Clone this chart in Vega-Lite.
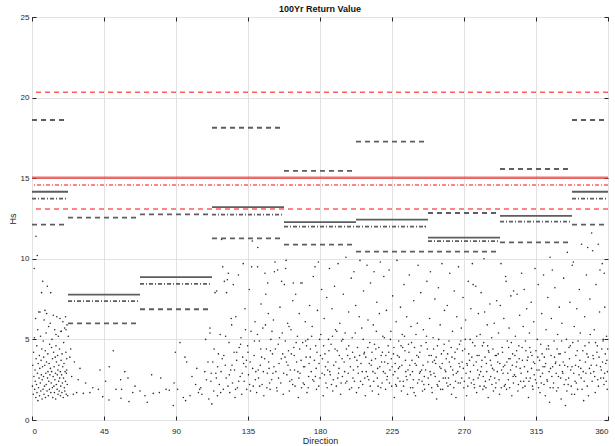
{
"$schema":"https://vega.github.io/schema/vega-lite/v6.json",
"width":576,"height":403,"autosize":"none",
"padding":{"left":32,"top":17,"right":7,"bottom":26},
"background":"white",
"config":{"font":"Liberation Sans","view":{"stroke":"#262626","strokeWidth":1},
"axis":{"domain":false,"tickSize":-4,"tickColor":"#262626","labelColor":"#262626","labelFontSize":8,"titleFontSize":9,"titleFontWeight":"normal","titleColor":"#262626","gridColor":"#e2e2e2"}},
"title":{"text":"100Yr Return Value","fontSize":9,"fontWeight":"bold","color":"#111","offset":-1},
"datasets":{
"seg":[
{"x1":0,"x2":22.5,"v":14.16,"k":"est"},{"x1":0,"x2":22.5,"v":13.73,"k":"dd"},{"x1":0,"x2":22.5,"v":18.61,"k":"up"},{"x1":0,"x2":22.5,"v":12.12,"k":"lo"},
{"x1":22.5,"x2":67.5,"v":7.78,"k":"est"},{"x1":22.5,"x2":67.5,"v":7.38,"k":"dd"},{"x1":22.5,"x2":67.5,"v":12.55,"k":"up"},{"x1":22.5,"x2":67.5,"v":6.0,"k":"lo"},
{"x1":67.5,"x2":112.5,"v":8.86,"k":"est"},{"x1":67.5,"x2":112.5,"v":8.45,"k":"dd"},{"x1":67.5,"x2":112.5,"v":12.76,"k":"up"},{"x1":67.5,"x2":112.5,"v":6.87,"k":"lo"},
{"x1":112.5,"x2":157.5,"v":13.21,"k":"est"},{"x1":112.5,"x2":157.5,"v":12.74,"k":"dd"},{"x1":112.5,"x2":157.5,"v":18.13,"k":"up"},{"x1":112.5,"x2":157.5,"v":11.27,"k":"lo"},
{"x1":157.5,"x2":202.5,"v":12.28,"k":"est"},{"x1":157.5,"x2":202.5,"v":11.99,"k":"dd"},{"x1":157.5,"x2":202.5,"v":15.45,"k":"up"},{"x1":157.5,"x2":202.5,"v":10.88,"k":"lo"},
{"x1":202.5,"x2":247.5,"v":12.43,"k":"est"},{"x1":202.5,"x2":247.5,"v":11.99,"k":"dd"},{"x1":202.5,"x2":247.5,"v":17.27,"k":"up"},{"x1":202.5,"x2":247.5,"v":10.44,"k":"lo"},
{"x1":247.5,"x2":292.5,"v":11.31,"k":"est"},{"x1":247.5,"x2":292.5,"v":11.1,"k":"dd"},{"x1":247.5,"x2":292.5,"v":12.84,"k":"up"},{"x1":247.5,"x2":292.5,"v":10.44,"k":"lo"},
{"x1":292.5,"x2":337.5,"v":12.66,"k":"est"},{"x1":292.5,"x2":337.5,"v":12.3,"k":"dd"},{"x1":292.5,"x2":337.5,"v":15.57,"k":"up"},{"x1":292.5,"x2":337.5,"v":11.02,"k":"lo"},
{"x1":337.5,"x2":360,"v":14.16,"k":"est"},{"x1":337.5,"x2":360,"v":13.73,"k":"dd"},{"x1":337.5,"x2":360,"v":18.61,"k":"up"},{"x1":337.5,"x2":360,"v":12.12,"k":"lo"}
],
"ref":[{"v":20.33,"k":"up"},{"v":15.03,"k":"est"},{"v":14.58,"k":"dd"},{"v":13.09,"k":"lo"}],
"pts":[
{"d":0.3,"h":2.1},{"d":0.5,"h":3.4},{"d":0.8,"h":1.6},{"d":1.0,"h":4.2},{"d":1.2,"h":2.7},{"d":1.4,"h":9.4},{"d":1.5,"h":5.1},{"d":1.7,"h":1.9},{"d":1.9,"h":3.1},{"d":2.0,"h":2.4},
{"d":2.2,"h":6.3},{"d":2.4,"h":1.4},{"d":2.5,"h":11.4},{"d":2.6,"h":3.8},{"d":2.8,"h":2.2},{"d":3.0,"h":4.6},{"d":3.1,"h":1.7},{"d":3.3,"h":10.2},{"d":3.4,"h":2.9},{"d":3.6,"h":5.6},
{"d":3.7,"h":1.2},{"d":3.9,"h":3.5},{"d":4.1,"h":2.0},{"d":4.2,"h":6.7},{"d":4.4,"h":2.6},{"d":4.6,"h":4.0},{"d":4.7,"h":1.5},{"d":4.9,"h":3.2},{"d":5.0,"h":6.7},{"d":5.2,"h":2.3},
{"d":5.3,"h":5.2},{"d":5.5,"h":1.8},{"d":5.7,"h":3.7},{"d":5.8,"h":2.8},{"d":6.0,"h":7.9},{"d":6.1,"h":4.4},{"d":6.3,"h":1.3},{"d":6.4,"h":2.5},{"d":6.6,"h":3.3},{"d":6.7,"h":8.6},
{"d":6.9,"h":1.9},{"d":7.0,"h":4.9},{"d":7.2,"h":2.7},{"d":7.3,"h":3.9},{"d":7.5,"h":1.6},{"d":7.6,"h":6.2},{"d":7.8,"h":2.1},{"d":8.0,"h":3.4},{"d":8.1,"h":6.8},{"d":8.3,"h":4.3},
{"d":8.4,"h":1.4},{"d":8.6,"h":2.9},{"d":8.8,"h":5.4},{"d":8.9,"h":2.2},{"d":9.1,"h":3.6},{"d":9.2,"h":6.6},{"d":9.4,"h":1.8},{"d":9.6,"h":8.3},{"d":9.7,"h":2.6},{"d":9.9,"h":4.1},
{"d":10.0,"h":3.0},{"d":10.2,"h":1.5},{"d":10.4,"h":5.8},{"d":10.5,"h":2.4},{"d":10.7,"h":3.5},{"d":10.9,"h":1.9},{"d":11.0,"h":4.7},{"d":11.2,"h":2.8},{"d":11.4,"h":6.0},{"d":11.5,"h":3.2},
{"d":11.7,"h":7.9},{"d":11.8,"h":1.7},{"d":12.0,"h":2.3},{"d":12.2,"h":4.5},{"d":12.3,"h":3.0},{"d":12.5,"h":5.0},{"d":12.7,"h":2.0},{"d":12.8,"h":3.8},{"d":13.0,"h":1.4},{"d":13.2,"h":2.7},
{"d":13.3,"h":6.5},{"d":13.5,"h":4.2},{"d":13.7,"h":2.1},{"d":13.8,"h":3.3},{"d":14.0,"h":1.7},{"d":14.2,"h":5.6},{"d":14.3,"h":2.5},{"d":14.5,"h":3.9},{"d":14.7,"h":2.9},{"d":14.8,"h":1.3},
{"d":15.0,"h":4.6},{"d":15.2,"h":2.2},{"d":15.3,"h":3.6},{"d":15.5,"h":6.4},{"d":15.7,"h":1.9},{"d":15.8,"h":2.8},{"d":16.0,"h":4.0},{"d":16.2,"h":3.1},{"d":16.3,"h":1.6},{"d":16.5,"h":5.2},
{"d":16.7,"h":2.4},{"d":16.8,"h":3.4},{"d":17.0,"h":1.8},{"d":17.2,"h":4.4},{"d":17.3,"h":2.6},{"d":17.5,"h":6.3},{"d":17.7,"h":3.0},{"d":17.8,"h":1.5},{"d":18.0,"h":2.1},{"d":18.2,"h":3.7},
{"d":18.3,"h":5.5},{"d":18.5,"h":2.8},{"d":18.7,"h":1.7},{"d":18.8,"h":4.1},{"d":19.0,"h":2.3},{"d":19.2,"h":3.3},{"d":19.3,"h":6.1},{"d":19.5,"h":1.4},{"d":19.7,"h":2.6},{"d":19.8,"h":4.8},
{"d":20.0,"h":3.5},{"d":20.2,"h":2.0},{"d":20.4,"h":5.7},{"d":20.5,"h":1.8},{"d":20.7,"h":3.0},{"d":20.9,"h":2.4},{"d":21.0,"h":6.4},{"d":21.2,"h":4.2},{"d":21.4,"h":1.6},{"d":21.5,"h":2.9},
{"d":21.7,"h":3.8},{"d":21.9,"h":5.9},{"d":22.0,"h":2.2},{"d":22.3,"h":1.5},{"d":18.1,"h":5.5},{"d":15.0,"h":5.3},{"d":21.25,"h":5.6},{"d":21.7,"h":3.1},
{"d":22.7,"h":5.2},{"d":23.7,"h":3.9},{"d":24.2,"h":4.4},{"d":24.8,"h":2.7},{"d":25.8,"h":1.6},{"d":27.9,"h":1.7},{"d":28.9,"h":2.5},{"d":30.0,"h":3.2},{"d":32.1,"h":1.65},{"d":36.2,"h":1.7},
{"d":41.5,"h":1.9},{"d":42.5,"h":3.1},{"d":44.2,"h":1.45},{"d":48.1,"h":1.24},{"d":48.3,"h":3.3},{"d":50.8,"h":4.3},{"d":52.5,"h":1.9},{"d":55.4,"h":2.5},{"d":55.6,"h":1.35},{"d":56.0,"h":1.9},
{"d":60.0,"h":2.6},{"d":60.6,"h":1.14},{"d":64.4,"h":2.1},{"d":67.5,"h":1.8},{"d":70.6,"h":1.5},{"d":72.0,"h":1.1},{"d":74.8,"h":2.8},{"d":75.8,"h":1.65},{"d":79.6,"h":1.7},{"d":83.8,"h":1.9},
{"d":85.8,"h":1.85},{"d":88.3,"h":0.9},{"d":88.8,"h":2.3},{"d":89.6,"h":4.2},{"d":92.5,"h":4.8},{"d":94.6,"h":1.4},{"d":95.6,"h":3.9},{"d":96.0,"h":1.2},{"d":96.7,"h":3.6},{"d":98.8,"h":1.5},
{"d":102.3,"h":2.2},{"d":104.0,"h":1.7},{"d":104.8,"h":1.9},{"d":105.5,"h":2.0},{"d":106.2,"h":1.6},{"d":108.0,"h":3.0},{"d":108.5,"h":5.0},{"d":109.0,"h":2.5},{"d":110.0,"h":3.6},{"d":111.25,"h":5.4},
{"d":26.5,"h":3.6},{"d":33.5,"h":2.3},{"d":38.0,"h":2.0},{"d":46.0,"h":2.4},{"d":58.0,"h":3.0},{"d":63.0,"h":1.7},{"d":80.5,"h":2.6},{"d":91.0,"h":1.9},{"d":100.0,"h":2.7},{"d":103.0,"h":3.2},
{"d":110.5,"h":1.3},{"d":111.2,"h":5.7},{"d":111.8,"h":2.4},{"d":112.4,"h":1.0},{"d":113.0,"h":3.6},{"d":113.6,"h":1.8},{"d":114.4,"h":7.9},{"d":114.9,"h":2.9},{"d":115.4,"h":8.0},{"d":115.9,"h":1.5},
{"d":116.5,"h":4.1},{"d":117.1,"h":2.2},{"d":117.6,"h":5.3},{"d":118.2,"h":3.0},{"d":118.5,"h":11.2},{"d":119.2,"h":9.5},{"d":119.6,"h":1.9},
{"d":120.2,"h":8.6},{"d":120.8,"h":3.4},{"d":121.3,"h":2.6},{"d":121.6,"h":7.9},{"d":122.1,"h":8.7},{"d":122.7,"h":9.1},{"d":123.1,"h":4.8},{"d":123.6,"h":1.7},{"d":124.2,"h":3.1},{"d":124.8,"h":5.9},
{"d":125.3,"h":2.3},{"d":125.8,"h":8.4},{"d":126.3,"h":4.2},{"d":126.9,"h":1.4},{"d":127.4,"h":6.4},{"d":127.9,"h":3.7},{"d":128.4,"h":2.0},{"d":129.0,"h":9.0},{"d":129.5,"h":4.5},
{"d":130.1,"h":2.7},{"d":130.6,"h":5.1},{"d":131.1,"h":1.6},{"d":131.7,"h":3.9},{"d":132.0,"h":9.7},{"d":132.6,"h":2.4},{"d":133.1,"h":6.9},{"d":133.7,"h":3.3},{"d":134.2,"h":1.9},{"d":134.8,"h":4.6},
{"d":135.3,"h":2.8},{"d":135.8,"h":8.1},{"d":136.4,"h":3.6},{"d":136.9,"h":5.5},{"d":137.3,"h":9.5},{"d":137.7,"h":11.1},{"d":138.3,"h":2.1},{"d":138.8,"h":4.0},{"d":139.4,"h":6.1},{"d":139.9,"h":3.0},
{"d":140.4,"h":1.7},{"d":141.0,"h":9.5},{"d":141.1,"h":10.7},{"d":141.6,"h":2.6},{"d":142.1,"h":4.9},{"d":142.7,"h":3.4},{"d":143.2,"h":7.2},{"d":143.8,"h":2.2},{"d":144.3,"h":5.7},{"d":144.9,"h":1.5},
{"d":145.4,"h":3.8},{"d":145.6,"h":9.1},{"d":146.1,"h":7.8},{"d":146.5,"h":4.4},{"d":147.1,"h":2.9},{"d":147.3,"h":8.5},{"d":147.7,"h":6.6},{"d":148.2,"h":3.2},{"d":148.8,"h":1.9},{"d":149.3,"h":5.0},{"d":149.8,"h":2.5},
{"d":150.3,"h":4.1},{"d":150.9,"h":6.2},{"d":151.5,"h":9.2},{"d":151.9,"h":9.8},{"d":152.4,"h":3.0},{"d":152.9,"h":2.0},{"d":153.5,"h":9.3},{"d":153.9,"h":4.7},{"d":154.4,"h":3.5},{"d":155.0,"h":7.0},
{"d":155.5,"h":2.3},{"d":156.0,"h":8.6},{"d":156.4,"h":5.4},{"d":157.0,"h":1.6},{"d":157.7,"h":8.4},{"d":158.1,"h":3.9},{"d":158.5,"h":9.4},{"d":158.8,"h":9.9},{"d":159.3,"h":2.8},{"d":159.8,"h":6.0},
{"d":160.3,"h":4.3},{"d":160.8,"h":1.8},{"d":161.4,"h":3.1},{"d":161.9,"h":5.6},{"d":162.4,"h":2.5},{"d":163.0,"h":7.4},{"d":163.3,"h":8.5},{"d":163.9,"h":4.0},{"d":164.4,"h":2.1},{"d":164.8,"h":7.8},
{"d":165.4,"h":3.6},{"d":165.9,"h":5.2},{"d":166.5,"h":1.4},{"d":167.0,"h":6.6},{"d":167.5,"h":2.9},{"d":168.0,"h":8.5},{"d":168.8,"h":8.5},{"d":169.2,"h":4.8},{"d":169.7,"h":3.3},
{"d":170.2,"h":2.2},{"d":170.8,"h":6.1},{"d":171.3,"h":3.9},{"d":171.9,"h":1.7},{"d":172.4,"h":5.0},{"d":172.9,"h":2.7},{"d":173.5,"h":7.1},{"d":174.0,"h":4.4},{"d":174.5,"h":3.0},{"d":175.1,"h":5.8},
{"d":175.8,"h":8.9},{"d":176.2,"h":2.4},{"d":176.9,"h":9.5},{"d":177.3,"h":4.6},{"d":177.8,"h":1.9},{"d":178.4,"h":6.8},{"d":179.0,"h":9.8},{"d":179.4,"h":3.5},
{"d":180.0,"h":2.6},{"d":180.5,"h":5.3},{"d":181.0,"h":8.1},{"d":181.5,"h":3.8},{"d":182.0,"h":1.5},{"d":182.6,"h":6.3},{"d":183.1,"h":4.1},{"d":183.7,"h":2.3},{"d":184.2,"h":7.6},{"d":184.8,"h":3.1},
{"d":185.3,"h":5.0},{"d":185.9,"h":9.4},{"d":186.4,"h":2.8},{"d":186.9,"h":4.7},{"d":187.5,"h":6.9},{"d":188.0,"h":1.8},{"d":188.6,"h":3.4},{"d":189.1,"h":8.3},{"d":189.7,"h":5.6},
{"d":190.2,"h":2.1},{"d":190.8,"h":4.3},{"d":191.3,"h":9.7},{"d":191.9,"h":3.2},{"d":192.4,"h":6.0},{"d":192.9,"h":1.6},{"d":193.5,"h":4.9},{"d":194.0,"h":2.7},{"d":194.6,"h":7.8},{"d":195.1,"h":3.6},
{"d":195.7,"h":5.4},{"d":196.2,"h":10.1},{"d":196.8,"h":2.4},{"d":197.3,"h":4.0},{"d":197.9,"h":6.7},{"d":198.4,"h":1.9},{"d":199.0,"h":3.3},{"d":199.5,"h":8.8},
{"d":200.1,"h":5.1},{"d":200.6,"h":2.6},{"d":201.2,"h":9.2},{"d":201.7,"h":3.9},{"d":202.3,"h":7.1},{"d":202.8,"h":1.7},{"d":203.4,"h":4.5},{"d":203.9,"h":2.9},{"d":204.5,"h":6.4},{"d":205.0,"h":9.9},
{"d":205.6,"h":3.5},{"d":206.1,"h":5.7},{"d":206.7,"h":2.2},{"d":207.2,"h":8.0},{"d":207.8,"h":4.2},{"d":208.3,"h":1.5},{"d":208.9,"h":3.0},{"d":209.4,"h":9.6},
{"d":210.0,"h":6.2},{"d":210.5,"h":2.5},{"d":211.1,"h":4.8},{"d":211.6,"h":8.5},{"d":212.2,"h":3.7},{"d":212.7,"h":1.8},{"d":213.3,"h":5.9},{"d":213.8,"h":9.2},{"d":214.4,"h":2.9},{"d":214.9,"h":4.4},
{"d":215.5,"h":7.3},{"d":216.0,"h":3.2},{"d":216.6,"h":1.6},{"d":217.1,"h":6.6},{"d":217.7,"h":9.8},{"d":218.2,"h":4.0},{"d":218.8,"h":2.3},{"d":219.3,"h":5.2},
{"d":219.9,"h":8.9},{"d":220.4,"h":3.6},{"d":221.0,"h":1.9},{"d":221.5,"h":6.8},{"d":222.1,"h":2.7},{"d":222.6,"h":4.6},{"d":223.2,"h":9.3},{"d":223.7,"h":3.1},{"d":224.3,"h":5.5},{"d":224.8,"h":2.1},
{"d":225.4,"h":7.7},{"d":225.9,"h":4.1},{"d":226.5,"h":1.4},{"d":227.0,"h":3.5},{"d":227.6,"h":6.1},{"d":228.1,"h":9.9},{"d":228.7,"h":2.6},{"d":229.2,"h":4.9},
{"d":229.8,"h":3.3},{"d":230.3,"h":7.0},{"d":230.9,"h":1.8},{"d":231.4,"h":5.3},{"d":232.0,"h":2.4},{"d":232.5,"h":8.4},{"d":233.1,"h":4.3},{"d":233.6,"h":3.0},{"d":234.2,"h":6.4},{"d":234.7,"h":1.6},
{"d":235.3,"h":4.7},{"d":235.8,"h":9.0},{"d":236.4,"h":2.8},{"d":236.9,"h":5.8},{"d":237.5,"h":3.7},{"d":238.0,"h":2.0},{"d":238.6,"h":7.4},{"d":239.1,"h":4.5},
{"d":239.7,"h":1.5},{"d":240.2,"h":3.4},{"d":240.8,"h":6.0},{"d":241.3,"h":9.6},{"d":241.9,"h":2.5},{"d":242.4,"h":4.2},{"d":243.0,"h":7.9},{"d":243.5,"h":3.1},{"d":244.1,"h":1.8},{"d":244.6,"h":5.6},
{"d":245.2,"h":2.7},{"d":245.7,"h":12.0},{"d":246.3,"h":4.8},{"d":246.8,"h":8.6},{"d":247.4,"h":3.6},{"d":247.9,"h":2.2},{"d":248.5,"h":6.3},{"d":249.0,"h":9.2},
{"d":249.6,"h":4.0},{"d":250.1,"h":1.7},{"d":250.7,"h":5.1},{"d":251.2,"h":2.9},{"d":251.8,"h":7.5},{"d":252.3,"h":3.5},{"d":252.9,"h":1.3},{"d":253.4,"h":4.6},{"d":254.0,"h":8.2},{"d":254.5,"h":2.4},
{"d":255.1,"h":5.9},{"d":255.6,"h":3.2},{"d":256.2,"h":9.7},{"d":256.7,"h":1.9},{"d":257.3,"h":4.3},{"d":257.8,"h":6.8},{"d":258.4,"h":2.6},{"d":258.9,"h":3.8},
{"d":259.5,"h":7.1},{"d":260.0,"h":2.1},{"d":260.6,"h":4.9},{"d":261.1,"h":9.1},{"d":261.7,"h":3.3},{"d":262.2,"h":1.6},{"d":262.8,"h":5.5},{"d":263.3,"h":2.8},{"d":263.9,"h":8.0},{"d":264.4,"h":4.2},
{"d":265.0,"h":1.4},{"d":265.5,"h":6.4},{"d":266.1,"h":3.0},{"d":266.6,"h":9.5},{"d":267.2,"h":4.7},{"d":267.7,"h":2.3},{"d":268.3,"h":5.7},{"d":268.8,"h":3.6},{"d":269.4,"h":7.6},
{"d":269.9,"h":2.0},{"d":270.5,"h":4.4},{"d":271.0,"h":6.2},{"d":271.6,"h":1.5},{"d":272.1,"h":3.4},{"d":272.7,"h":8.6},{"d":273.2,"h":2.6},{"d":273.8,"h":5.0},{"d":274.3,"h":6.9},{"d":274.9,"h":3.9},
{"d":275.2,"h":9.7},{"d":275.7,"h":8.4},{"d":276.3,"h":2.2},{"d":276.8,"h":4.6},{"d":277.4,"h":8.3},{"d":277.9,"h":1.7},{"d":278.5,"h":3.1},{"d":279.0,"h":6.6},{"d":279.6,"h":2.8},
{"d":280.1,"h":5.3},{"d":280.7,"h":7.9},{"d":281.2,"h":3.7},{"d":281.8,"h":1.9},{"d":282.3,"h":4.8},{"d":282.5,"h":10.0},{"d":282.9,"h":6.7},{"d":283.4,"h":2.4},{"d":284.0,"h":3.5},{"d":284.5,"h":5.9},
{"d":285.1,"h":1.4},{"d":285.6,"h":4.2},{"d":286.2,"h":7.2},{"d":286.7,"h":2.7},{"d":287.3,"h":5.1},{"d":287.8,"h":3.2},{"d":288.4,"h":1.8},{"d":288.9,"h":6.0},{"d":289.5,"h":4.0},
{"d":290.0,"h":2.3},{"d":290.4,"h":7.4},{"d":291.1,"h":3.6},{"d":291.6,"h":5.4},{"d":292.2,"h":1.6},{"d":292.7,"h":7.1},{"d":293.1,"h":9.7},{"d":293.8,"h":4.5},{"d":294.4,"h":2.9},{"d":294.9,"h":6.3},
{"d":295.5,"h":3.4},{"d":296.0,"h":8.9},{"d":296.3,"h":8.6},{"d":296.6,"h":1.9},{"d":297.1,"h":4.9},{"d":297.7,"h":2.5},{"d":298.2,"h":5.7},{"d":298.8,"h":3.8},{"d":299.3,"h":7.7},
{"d":299.9,"h":1.5},{"d":300.4,"h":4.1},{"d":301.0,"h":8.0},{"d":301.5,"h":2.8},{"d":302.1,"h":5.2},{"d":302.6,"h":3.3},{"d":303.2,"h":7.8},{"d":303.7,"h":1.8},{"d":304.3,"h":4.6},{"d":304.8,"h":6.5},
{"d":305.4,"h":2.4},{"d":306.0,"h":9.1},{"d":306.5,"h":3.7},{"d":307.0,"h":5.8},{"d":307.6,"h":8.1},{"d":308.1,"h":2.1},{"d":308.7,"h":4.3},{"d":309.2,"h":6.9},
{"d":309.8,"h":3.0},{"d":310.3,"h":1.4},{"d":310.9,"h":5.4},{"d":311.4,"h":2.6},{"d":312.0,"h":7.3},{"d":312.5,"h":4.0},{"d":313.1,"h":1.9},{"d":313.6,"h":6.1},{"d":314.2,"h":3.5},{"d":314.4,"h":9.4},
{"d":315.3,"h":2.3},{"d":315.8,"h":5.0},{"d":316.4,"h":8.4},{"d":316.9,"h":3.1},{"d":317.5,"h":1.7},{"d":318.0,"h":4.7},{"d":318.6,"h":6.6},{"d":319.1,"h":2.9},{"d":319.7,"h":9.0},
{"d":320.2,"h":3.9},{"d":320.8,"h":1.5},{"d":321.3,"h":5.6},{"d":321.9,"h":2.5},{"d":322.4,"h":7.6},{"d":323.0,"h":4.4},{"d":323.5,"h":1.1},{"d":323.8,"h":10.1},{"d":324.1,"h":3.2},{"d":324.6,"h":6.3},
{"d":325.2,"h":9.3},{"d":325.7,"h":2.0},{"d":326.3,"h":4.9},{"d":326.8,"h":8.2},{"d":327.4,"h":3.6},{"d":327.9,"h":1.8},{"d":328.5,"h":5.3},{"d":329.0,"h":2.7},{"d":329.6,"h":7.0},
{"d":330.1,"h":4.1},{"d":330.7,"h":1.3},{"d":331.2,"h":6.0},{"d":331.8,"h":2.9},{"d":332.3,"h":8.8},{"d":332.9,"h":3.4},{"d":333.4,"h":0.9},{"d":334.0,"h":5.0},{"d":334.6,"h":10.4},{"d":335.1,"h":2.2},
{"d":335.6,"h":4.5},{"d":336.2,"h":7.3},{"d":336.7,"h":3.1},{"d":337.3,"h":1.6},{"d":337.7,"h":9.6},{"d":338.3,"h":9.8},{"d":338.9,"h":5.8},{"d":339.4,"h":2.4},{"d":339.9,"h":4.0},
{"d":340.5,"h":6.9},{"d":341.0,"h":1.9},{"d":341.6,"h":3.3},{"d":342.1,"h":8.1},{"d":342.7,"h":5.4},{"d":343.2,"h":2.6},{"d":343.5,"h":10.9},{"d":344.3,"h":4.3},{"d":344.8,"h":1.2},{"d":345.4,"h":6.4},
{"d":345.9,"h":3.6},{"d":346.5,"h":9.0},{"d":347.0,"h":2.1},{"d":347.3,"h":10.7},{"d":348.1,"h":4.8},{"d":348.7,"h":7.5},{"d":349.2,"h":2.9},{"d":349.8,"h":11.6},
{"d":350.4,"h":10.5},{"d":350.9,"h":3.8},{"d":351.4,"h":5.6},{"d":352.0,"h":1.7},{"d":352.5,"h":8.4},{"d":353.1,"h":4.2},{"d":353.6,"h":2.5},{"d":353.9,"h":10.9},{"d":354.7,"h":6.7},{"d":355.0,"h":9.3},
{"d":355.8,"h":3.1},{"d":356.4,"h":9.7},{"d":356.9,"h":4.9},{"d":357.5,"h":2.2},{"d":357.7,"h":9.1},{"d":358.0,"h":7.0},{"d":358.6,"h":3.5},{"d":359.1,"h":5.2},{"d":359.5,"h":1.9},{"d":359.8,"h":4.4},
{"d":115.2,"h":2.6},{"d":118.9,"h":3.8},{"d":122.5,"h":2.1},{"d":125.0,"h":3.4},{"d":128.0,"h":4.2},{"d":131.4,"h":2.9},{"d":134.0,"h":3.7},{"d":136.0,"h":2.2},{"d":139.0,"h":4.9},{"d":141.4,"h":3.1},
{"d":143.5,"h":3.9},{"d":146.8,"h":2.0},{"d":149.0,"h":4.3},{"d":151.2,"h":3.3},{"d":154.1,"h":2.6},{"d":156.7,"h":4.1},{"d":159.0,"h":3.6},{"d":161.1,"h":2.4},{"d":163.6,"h":4.5},{"d":166.2,"h":3.0},
{"d":168.5,"h":2.0},{"d":171.0,"h":4.9},{"d":173.2,"h":3.5},{"d":175.5,"h":2.5},{"d":177.6,"h":3.2},{"d":180.3,"h":4.0},{"d":182.8,"h":2.8},{"d":185.0,"h":3.6},{"d":187.2,"h":2.2},{"d":189.4,"h":4.4},
{"d":191.6,"h":2.9},{"d":193.8,"h":3.8},{"d":196.0,"h":2.3},{"d":198.0,"h":4.6},{"d":200.9,"h":3.1},{"d":203.1,"h":3.7},{"d":205.3,"h":2.4},{"d":207.5,"h":4.1},{"d":209.7,"h":2.7},{"d":212.0,"h":3.4},
{"d":214.1,"h":4.7},{"d":216.3,"h":2.1},{"d":218.5,"h":3.6},{"d":220.7,"h":2.9},{"d":223.0,"h":4.2},{"d":225.1,"h":3.3},{"d":227.3,"h":2.2},{"d":229.5,"h":3.9},{"d":231.7,"h":4.5},{"d":233.9,"h":2.7},
{"d":236.1,"h":3.4},{"d":238.3,"h":2.5},{"d":240.5,"h":4.0},{"d":242.7,"h":3.0},{"d":244.9,"h":2.2},{"d":247.1,"h":4.4},{"d":249.3,"h":2.8},{"d":251.5,"h":3.7},{"d":253.7,"h":2.1},{"d":255.9,"h":4.1},
{"d":258.1,"h":3.1},{"d":260.3,"h":2.6},{"d":262.5,"h":3.9},{"d":264.7,"h":2.4},{"d":266.9,"h":3.5},{"d":269.1,"h":4.3},{"d":271.3,"h":2.9},{"d":273.5,"h":3.7},{"d":275.9,"h":2.5},{"d":278.2,"h":4.0},
{"d":280.4,"h":3.0},{"d":282.6,"h":2.1},{"d":284.8,"h":4.6},{"d":287.0,"h":3.4},{"d":289.2,"h":2.6},{"d":291.4,"h":4.1},{"d":293.5,"h":3.1},{"d":295.8,"h":2.2},{"d":298.0,"h":3.8},{"d":300.7,"h":2.7},
{"d":302.9,"h":4.3},{"d":305.1,"h":3.2},{"d":307.3,"h":2.4},{"d":309.5,"h":3.7},{"d":311.7,"h":4.2},{"d":313.9,"h":2.8},{"d":316.1,"h":3.9},{"d":318.3,"h":2.3},{"d":320.5,"h":3.3},{"d":322.7,"h":4.6},
{"d":324.9,"h":2.7},{"d":327.1,"h":3.5},{"d":329.3,"h":4.1},{"d":331.5,"h":3.0},{"d":333.7,"h":2.5},{"d":335.9,"h":3.8},{"d":338.6,"h":2.9},{"d":340.8,"h":4.3},{"d":343.0,"h":3.2},{"d":345.1,"h":2.4},
{"d":347.6,"h":3.9},{"d":349.5,"h":3.4},{"d":351.7,"h":2.7},{"d":353.3,"h":4.6},{"d":355.3,"h":3.3},{"d":357.2,"h":2.6},{"d":359.3,"h":3.7},
{"d":112.0,"h":2.9},{"d":113.8,"h":4.4},{"d":116.0,"h":3.3},{"d":117.9,"h":1.7},{"d":119.9,"h":4.0},{"d":121.0,"h":5.2},{"d":123.3,"h":2.8},{"d":124.5,"h":6.3},{"d":126.6,"h":3.1},{"d":127.2,"h":1.9},
{"d":129.2,"h":2.4},{"d":130.4,"h":4.7},{"d":132.3,"h":3.5},{"d":133.4,"h":5.6},{"d":135.0,"h":4.2},{"d":136.6,"h":1.8},{"d":137.9,"h":3.2},{"d":139.6,"h":2.5},{"d":140.9,"h":5.3},{"d":142.3,"h":2.1},
{"d":143.0,"h":4.4},{"d":144.6,"h":3.0},{"d":145.9,"h":5.9},{"d":147.9,"h":3.6},{"d":148.5,"h":2.3},{"d":150.0,"h":5.5},{"d":150.6,"h":2.9},{"d":152.1,"h":4.4},{"d":153.2,"h":1.8},{"d":154.7,"h":5.1},
{"d":155.8,"h":3.8},{"d":157.3,"h":2.9},{"d":158.3,"h":4.9},{"d":160.0,"h":3.4},{"d":160.6,"h":5.8},{"d":162.1,"h":4.1},{"d":162.9,"h":2.2},{"d":164.1,"h":3.1},{"d":165.1,"h":4.8},{"d":166.8,"h":2.6},
{"d":167.3,"h":4.4},{"d":168.2,"h":3.7},{"d":169.5,"h":2.3},{"d":170.5,"h":3.3},{"d":171.6,"h":4.6},{"d":172.6,"h":2.0},{"d":173.9,"h":3.9},{"d":174.8,"h":5.2},{"d":176.5,"h":3.7},{"d":177.1,"h":2.7},
{"d":178.1,"h":4.2},{"d":179.2,"h":2.1},{"d":179.8,"h":5.0},{"d":181.3,"h":2.9},{"d":182.3,"h":4.6},{"d":183.4,"h":3.3},{"d":184.5,"h":2.0},{"d":185.6,"h":4.3},{"d":186.1,"h":3.0},{"d":187.8,"h":5.2},
{"d":188.3,"h":2.5},{"d":189.9,"h":3.6},{"d":190.5,"h":5.5},{"d":191.1,"h":2.6},{"d":192.1,"h":4.0},{"d":193.2,"h":2.3},{"d":194.3,"h":5.0},{"d":195.4,"h":3.0},{"d":196.5,"h":4.4},{"d":197.6,"h":2.9},
{"d":198.7,"h":3.8},{"d":199.8,"h":2.0},{"d":200.4,"h":4.2},{"d":201.5,"h":2.4},{"d":202.0,"h":5.4},{"d":203.6,"h":3.3},{"d":204.2,"h":2.0},{"d":204.8,"h":4.0},{"d":206.4,"h":3.0},{"d":207.0,"h":5.0},
{"d":208.0,"h":2.6},{"d":208.6,"h":3.9},{"d":209.9,"h":4.5},{"d":210.8,"h":3.5},{"d":211.4,"h":2.1},{"d":212.5,"h":4.2},{"d":213.1,"h":3.0},{"d":213.6,"h":2.4},{"d":214.7,"h":3.8},{"d":215.2,"h":5.5},
{"d":215.8,"h":2.6},{"d":216.8,"h":4.5},{"d":217.4,"h":3.3},{"d":218.0,"h":2.0},{"d":219.0,"h":4.2},{"d":219.6,"h":3.0},{"d":220.2,"h":5.1},{"d":221.2,"h":4.0},{"d":221.8,"h":2.5},{"d":222.4,"h":3.5},
{"d":223.4,"h":2.3},{"d":224.0,"h":5.0},{"d":224.6,"h":3.8},{"d":225.7,"h":2.8},{"d":226.2,"h":4.5},{"d":226.8,"h":3.0},{"d":227.8,"h":2.1},{"d":228.4,"h":4.0},{"d":229.0,"h":3.2},{"d":230.0,"h":2.4},
{"d":230.6,"h":4.6},{"d":231.2,"h":3.4},{"d":232.2,"h":2.1},{"d":232.8,"h":5.2},{"d":233.4,"h":3.7},{"d":234.4,"h":2.5},{"d":235.0,"h":3.1},{"d":235.6,"h":4.2},{"d":236.6,"h":2.0},{"d":237.2,"h":4.8},
{"d":237.8,"h":3.0},{"d":238.8,"h":1.7},{"d":239.4,"h":3.5},{"d":240.0,"h":5.3},{"d":241.0,"h":2.3},{"d":241.6,"h":3.9},{"d":242.2,"h":2.9},{"d":243.2,"h":4.6},{"d":243.8,"h":2.4},{"d":244.4,"h":3.4},
{"d":245.4,"h":1.9},{"d":246.0,"h":3.1},{"d":246.6,"h":5.2},{"d":247.6,"h":2.6},{"d":248.2,"h":4.0},{"d":248.8,"h":3.0},{"d":249.8,"h":2.0},{"d":250.4,"h":3.6},{"d":251.0,"h":4.4},{"d":252.0,"h":2.7},
{"d":252.6,"h":3.9},{"d":253.2,"h":2.2},{"d":254.2,"h":5.0},{"d":254.8,"h":3.3},{"d":255.4,"h":1.9},{"d":256.4,"h":3.5},{"d":257.0,"h":2.6},{"d":257.6,"h":4.7},{"d":258.6,"h":3.0},{"d":259.2,"h":2.3},
{"d":259.8,"h":4.1},{"d":260.8,"h":3.6},{"d":261.4,"h":2.2},{"d":262.0,"h":4.5},{"d":263.0,"h":3.1},{"d":263.6,"h":2.0},{"d":264.2,"h":3.8},{"d":265.2,"h":2.9},{"d":265.8,"h":4.4},{"d":266.4,"h":2.3},
{"d":267.4,"h":3.3},{"d":268.0,"h":4.9},{"d":268.6,"h":2.6},{"d":269.6,"h":3.2},{"d":270.2,"h":2.4},{"d":270.8,"h":5.0},{"d":271.8,"h":3.5},{"d":272.4,"h":2.1},{"d":273.0,"h":4.1},{"d":274.0,"h":3.0},
{"d":274.6,"h":2.3},{"d":275.4,"h":4.8},{"d":276.0,"h":3.4},{"d":276.6,"h":2.0},{"d":277.6,"h":3.6},{"d":278.0,"h":5.2},{"d":278.8,"h":2.6},{"d":279.4,"h":4.0},{"d":280.0,"h":2.1},{"d":280.9,"h":3.3},
{"d":281.5,"h":4.6},{"d":282.0,"h":2.7},{"d":283.1,"h":3.9},{"d":283.7,"h":2.0},{"d":284.2,"h":3.0},{"d":285.3,"h":4.3},{"d":285.9,"h":2.5},{"d":286.5,"h":3.7},{"d":287.5,"h":2.2},{"d":288.1,"h":4.4},
{"d":288.7,"h":3.1},{"d":289.7,"h":2.0},{"d":290.2,"h":4.0},{"d":290.8,"h":3.0},{"d":291.9,"h":2.5},{"d":292.4,"h":3.5},{"d":293.3,"h":2.0},{"d":294.1,"h":4.2},{"d":294.6,"h":3.3},{"d":295.2,"h":2.1},
{"d":296.8,"h":3.6},{"d":297.4,"h":2.9},{"d":297.9,"h":4.5},{"d":298.5,"h":2.0},{"d":299.1,"h":3.1},{"d":299.6,"h":4.8},{"d":300.2,"h":3.4},{"d":300.9,"h":2.3},{"d":301.8,"h":4.0},{"d":302.3,"h":2.7},
{"d":303.0,"h":3.6},{"d":304.0,"h":2.2},{"d":304.5,"h":3.8},{"d":305.7,"h":2.9},{"d":306.3,"h":4.5},{"d":306.8,"h":2.0},{"d":307.8,"h":3.3},{"d":308.4,"h":4.9},{"d":308.9,"h":2.6},{"d":310.0,"h":3.9},
{"d":310.6,"h":2.4},{"d":311.1,"h":4.5},{"d":312.2,"h":3.2},{"d":312.8,"h":2.1},{"d":313.4,"h":3.6},{"d":314.6,"h":2.5},{"d":315.0,"h":4.3},{"d":315.6,"h":3.1},{"d":316.6,"h":2.0},{"d":317.2,"h":3.7},
{"d":317.8,"h":2.7},{"d":318.8,"h":4.1},{"d":319.4,"h":3.3},{"d":320.0,"h":2.2},{"d":321.0,"h":3.5},{"d":321.6,"h":4.4},{"d":322.1,"h":2.4},{"d":323.2,"h":3.0},{"d":323.9,"h":2.0},{"d":324.4,"h":4.0},
{"d":325.4,"h":3.3},{"d":326.0,"h":2.3},{"d":326.6,"h":3.9},{"d":327.6,"h":2.9},{"d":328.2,"h":4.4},{"d":328.8,"h":2.0},{"d":329.8,"h":3.4},{"d":330.4,"h":2.6},{"d":331.0,"h":4.9},{"d":332.0,"h":3.6},
{"d":332.6,"h":2.2},{"d":333.2,"h":4.2},{"d":334.3,"h":1.8},{"d":334.8,"h":3.3},{"d":335.4,"h":2.6},{"d":336.4,"h":4.6},{"d":337.0,"h":2.1},{"d":337.5,"h":3.3},{"d":338.0,"h":4.8},{"d":339.1,"h":1.6},
{"d":339.7,"h":3.4},{"d":340.2,"h":2.3},{"d":341.3,"h":4.9},{"d":341.9,"h":2.8},{"d":342.4,"h":3.7},{"d":343.8,"h":1.9},{"d":344.5,"h":3.0},{"d":345.6,"h":4.6},{"d":346.2,"h":2.9},{"d":346.8,"h":4.1},
{"d":347.8,"h":1.5},{"d":348.4,"h":3.2},{"d":348.9,"h":5.3},{"d":350.1,"h":2.4},{"d":350.6,"h":4.0},{"d":351.1,"h":3.0},{"d":352.2,"h":4.8},{"d":352.8,"h":3.4},{"d":354.0,"h":2.1},{"d":354.4,"h":3.9},
{"d":355.5,"h":2.6},{"d":356.1,"h":4.4},{"d":356.6,"h":3.6},{"d":357.0,"h":5.0},{"d":357.9,"h":2.9},{"d":358.3,"h":4.1},{"d":358.9,"h":2.4},{"d":359.6,"h":3.0}
]},
"layer":[
{"data":{"name":"pts"},"mark":{"type":"circle","size":2.5,"color":"#2a2a2a","opacity":1},
"encoding":{
"x":{"field":"d","type":"quantitative","scale":{"domain":[0,360],"nice":false,"zero":false},"axis":{"values":[0,45,90,135,180,225,270,315,360],"title":"Direction","titlePadding":1,"labelPadding":11}},
"y":{"field":"h","type":"quantitative","scale":{"domain":[0,25],"nice":false},"axis":{"values":[0,5,10,15,20,25],"title":"Hs","titlePadding":3,"labelPadding":7}}}},
{"data":{"name":"seg"},"mark":{"type":"rule","strokeWidth":1.8,"color":"#5e5e5e"},
"encoding":{
"x":{"field":"x1","type":"quantitative","axis":{"orient":"top","labels":false,"grid":false,"title":null,"values":[0,45,90,135,180,225,270,315,360]}},
"x2":{"field":"x2"},
"y":{"field":"v","type":"quantitative","axis":{"orient":"right","labels":false,"grid":false,"title":null,"values":[0,5,10,15,20,25]}},
"strokeDash":{"field":"k","type":"nominal","scale":{"domain":["est","dd","up","lo"],"range":[[1,0],[4,2,1,2],[5,4],[5,4]]},"legend":null}}},
{"data":{"name":"ref"},"transform":[{"filter":"datum.k != 'est'"}],"mark":{"type":"rule","strokeWidth":1.6,"color":"#ff4040","opacity":0.85},
"encoding":{
"y":{"field":"v","type":"quantitative","axis":null},
"strokeDash":{"field":"k","type":"nominal","scale":{"domain":["est","dd","up","lo"],"range":[[1,0],[4,2,1,2],[5,4],[5,4]]},"legend":null}}},
{"data":{"name":"ref"},"transform":[{"filter":"datum.k == 'est'"}],"mark":{"type":"rule","strokeWidth":2.6,"color":"#e83030","opacity":0.7},
"encoding":{"y":{"field":"v","type":"quantitative","axis":null}}}
],
"resolve":{"axis":{"x":"independent","y":"independent"}}
}
